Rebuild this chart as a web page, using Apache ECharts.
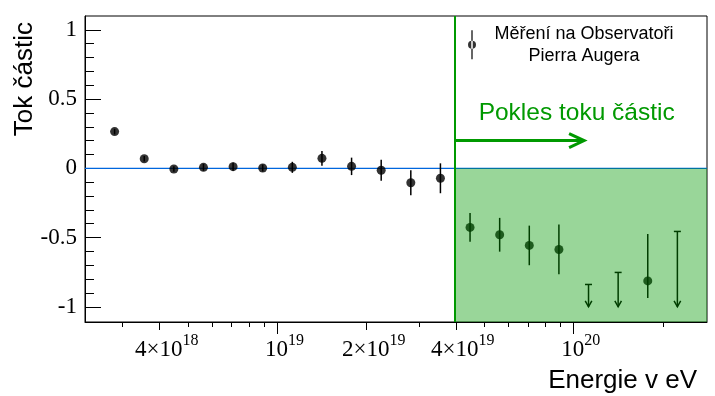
<!DOCTYPE html>
<html>
<head>
<meta charset="utf-8">
<title>Tok částic</title>
<script src="https://cdn.jsdelivr.net/npm/echarts@6/dist/echarts.min.js"></script>
<style>
  html, body { margin: 0; padding: 0; background: #fff; }
  #chart { width: 715px; height: 396px; }
</style>
</head>
<body>
<div id="chart"></div>
<script>
// bin centres, log10(E / eV)
const logEnergy = [18.45, 18.55, 18.65, 18.75, 18.85, 18.95, 19.05, 19.15, 19.25,
  19.35, 19.45, 19.55, 19.65, 19.75, 19.85, 19.95, 20.25]
// flux deviation
const flux = [0.265, 0.069, -0.005, 0.007, 0.012, 0.002, 0.007, 0.072, 0.014,
  -0.014, -0.104, -0.072, -0.427, -0.480, -0.557, -0.586, -0.813]
const errUp = [0.02, 0.02, 0.02, 0.025, 0.03, 0.025, 0.04, 0.053, 0.063,
  0.075, 0.09, 0.108, 0.104, 0.122, 0.143, 0.18, 0.338]
const errDown = [0.02, 0.02, 0.02, 0.025, 0.03, 0.025, 0.04, 0.053, 0.063,
  0.075, 0.09, 0.108, 0.104, 0.122, 0.143, 0.18, 0.123]

// upper limits (arrows)
const limitLogEnergy = [20.05, 20.15, 20.35]
const limitValue = [-0.839, -0.752, -0.456]
const limitArrowEnd = -1.0

// axis ticks (energy in eV)
const xLabelTicks = [4e18, 1e19, 2e19, 4e19, 1e20]
const xDecadeTicks = [1e19, 1e20]
const xMinorTicks = [3e18, 5e18, 6e18, 7e18, 8e18, 9e18, 3e19, 5e19, 6e19, 7e19, 8e19, 9e19, 2e20]
const yMajorTicks = [-1, -0.5, 0, 0.5, 1]
const yMinorTicks = [-0.9, -0.8, -0.7, -0.6, -0.4, -0.3, -0.2, -0.1,
  0.1, 0.2, 0.3, 0.4, 0.6, 0.7, 0.8, 0.9]

const cutEnergy = 4e19
const seriesName = 'Měření na Observatoři'

const xMin = 18.35, xMax = 20.45
const yMin = -1.11, yMax = 1.1

const chart = echarts.init(document.getElementById('chart'))

const serif = 'Liberation Serif'
const sans = 'Liberation Sans'
const green = '#009900'
const logTicks = arr => arr.map(v => Math.log10(v))
const cutLog = Math.log10(cutEnergy)

// common pieces of the stacked x axes
const baseX = {
  type: 'value', min: xMin, max: xMax, position: 'bottom',
  axisLine: { show: false, onZero: false },
  axisLabel: { show: false },
  splitLine: { show: false }
}

const option = {
  animation: false,
  backgroundColor: '#fff',
  grid: { left: 85, right: 8, top: 16, bottom: 74, show: true, borderColor: '#000', borderWidth: 1 },
  legend: {
    data: [{ name: seriesName, icon: 'path://M3.25,0H4.75V29H3.25Z M0,14.5A4,4 0 1 0 8,14.5A4,4 0 1 0 0,14.5Z' }],
    left: 463, top: 20,
    itemWidth: 8, itemHeight: 29,
    selectedMode: false,
    formatter: () => '{a|Měření na Observatoři}\n{a|Pierra Augera}',
    textStyle: {
      rich: { a: { width: 206, align: 'center', fontFamily: sans, fontSize: 18, lineHeight: 21.6, color: '#000' } }
    }
  },
  xAxis: [
    {
      ...baseX,
      axisLine: { show: true, onZero: false, lineStyle: { color: '#000', width: 1 } },
      axisTick: { show: true, length: 8, customValues: logTicks(xLabelTicks), lineStyle: { color: '#000' } },
      axisLabel: {
        show: true,
        customValues: logTicks(xLabelTicks),
        margin: 11,
        padding: [0, 0, 0, 14],
        formatter: v => {
          const e = Math.floor(v + 1e-9)
          const m = Math.round(Math.pow(10, v - e))
          return (m === 1 ? '{b|10}' : '{b|' + m + '×10}') + '{s|' + e + '}'
        },
        rich: {
          b: { fontFamily: serif, fontSize: 23, color: '#000', lineHeight: 28, verticalAlign: 'bottom' },
          s: { fontFamily: serif, fontSize: 16, color: '#000', lineHeight: 28, verticalAlign: 'top' }
        }
      },
      name: 'Energie v eV',
      nameLocation: 'end',
      nameGap: -10,
      nameTextStyle: { fontFamily: sans, fontSize: 26, color: '#000', align: 'right', verticalAlign: 'top', padding: [46, 0, 0, 0] }
    },
    { ...baseX, axisTick: { show: true, length: 12, customValues: logTicks(xDecadeTicks), lineStyle: { color: '#000' } } },
    { ...baseX, axisTick: { show: true, length: 5, customValues: logTicks(xMinorTicks), lineStyle: { color: '#000' } } }
  ],
  yAxis: [
    {
      type: 'value', min: yMin, max: yMax, position: 'left',
      axisLine: { show: true, onZero: false, lineStyle: { color: '#000', width: 1 } },
      axisTick: { show: true, inside: true, length: 16, customValues: yMajorTicks, lineStyle: { color: '#000' } },
      axisLabel: {
        customValues: yMajorTicks, margin: 8,
        fontFamily: serif, fontSize: 23, color: '#000',
        formatter: v => String(v)
      },
      splitLine: { show: false },
      name: 'Tok částic',
      nameLocation: 'end',
      nameRotate: 90,
      nameGap: -6,
      nameTextStyle: { fontFamily: sans, fontSize: 26, color: '#000', align: 'right', verticalAlign: 'bottom', padding: [0, 0, 47, 0] }
    },
    {
      type: 'value', min: yMin, max: yMax, position: 'left',
      axisLine: { show: false, onZero: false },
      axisTick: { show: true, inside: true, length: 9, customValues: yMinorTicks, lineStyle: { color: '#000' } },
      axisLabel: { show: false },
      splitLine: { show: false }
    }
  ],
  series: [
    {
      // zero line
      type: 'custom', z: 1, silent: true,
      data: [[xMin, 0]],
      encode: { x: 0, y: 1 },
      renderItem: (params, api) => {
        const a = api.coord([xMin, 0]), b = api.coord([xMax, 0])
        return { type: 'line', shape: { x1: a[0], y1: a[1], x2: b[0], y2: b[1] }, style: { stroke: '#0066dd', lineWidth: 1.2 } }
      }
    },
    {
      // error bars
      type: 'custom', z: 2, silent: true,
      data: logEnergy.map((x, i) => [x, flux[i], errDown[i], errUp[i]]),
      encode: { x: 0, y: 1 },
      renderItem: (params, api) => {
        const x = api.value(0), y = api.value(1)
        const lo = api.coord([x, y - api.value(2)]), hi = api.coord([x, y + api.value(3)])
        return { type: 'line', shape: { x1: lo[0], y1: lo[1], x2: hi[0], y2: hi[1] }, style: { stroke: '#000', lineWidth: 1.5 } }
      }
    },
    {
      name: seriesName,
      type: 'scatter', z: 3,
      symbol: 'circle', symbolSize: 9,
      itemStyle: { color: '#000' },
      data: logEnergy.map((x, i) => [x, flux[i]])
    },
    {
      // upper limits
      type: 'custom', z: 2, silent: true,
      data: limitLogEnergy.map((x, i) => [x, limitValue[i], limitArrowEnd]),
      encode: { x: 0, y: 1 },
      renderItem: (params, api) => {
        const x = api.value(0)
        const top = api.coord([x, api.value(1)]), end = api.coord([x, api.value(2)])
        const st = { stroke: '#000', lineWidth: 1.5, fill: null }
        return {
          type: 'group',
          children: [
            { type: 'line', shape: { x1: top[0], y1: top[1], x2: end[0], y2: end[1] }, style: st },
            { type: 'line', shape: { x1: top[0] - 3.5, y1: top[1], x2: top[0] + 3.5, y2: top[1] }, style: st },
            { type: 'polyline', shape: { points: [[end[0] - 3.3, end[1] - 6], [end[0], end[1]], [end[0] + 3.3, end[1] - 6]] }, style: st }
          ]
        }
      }
    },
    {
      // region above the cut: shaded box, arrow and label
      type: 'custom', z: 5, silent: true,
      data: [[cutLog, 0]],
      encode: { x: 0, y: 1 },
      renderItem: (params, api) => {
        const cut = api.value(0)
        const p0 = api.coord([cut, 0]), p1 = api.coord([xMax, yMin])
        const a0 = api.coord([cut, 0.2]), a1 = api.coord([20.035, 0.2])
        const t = api.coord([20.01, 0.4])
        return {
          type: 'group',
          children: [
            { type: 'rect', shape: { x: p0[0], y: p0[1], width: p1[0] - p0[0], height: p1[1] - p0[1] }, style: { fill: 'rgba(0,153,0,0.4)' } },
            { type: 'polyline', shape: { points: [[a0[0], a0[1]], [a1[0] - 1, a1[1]]] }, style: { stroke: green, lineWidth: 3, fill: null } },
            { type: 'polyline', shape: { points: [[a1[0] - 15, a1[1] - 7], [a1[0], a1[1]], [a1[0] - 15, a1[1] + 7]] }, style: { stroke: green, lineWidth: 3, fill: null } },
            { type: 'text', style: { text: 'Pokles toku částic', x: t[0], y: t[1], fill: green, font: '24.5px "Liberation Sans"', align: 'center', verticalAlign: 'middle' } }
          ]
        }
      },
      markLine: {
        silent: true, symbol: 'none', z: 6,
        label: { show: false },
        lineStyle: { color: green, width: 2, type: 'solid' },
        data: [{ xAxis: cutLog }]
      }
    }
  ]
}

chart.setOption(option)
</script>
</body>
</html>
